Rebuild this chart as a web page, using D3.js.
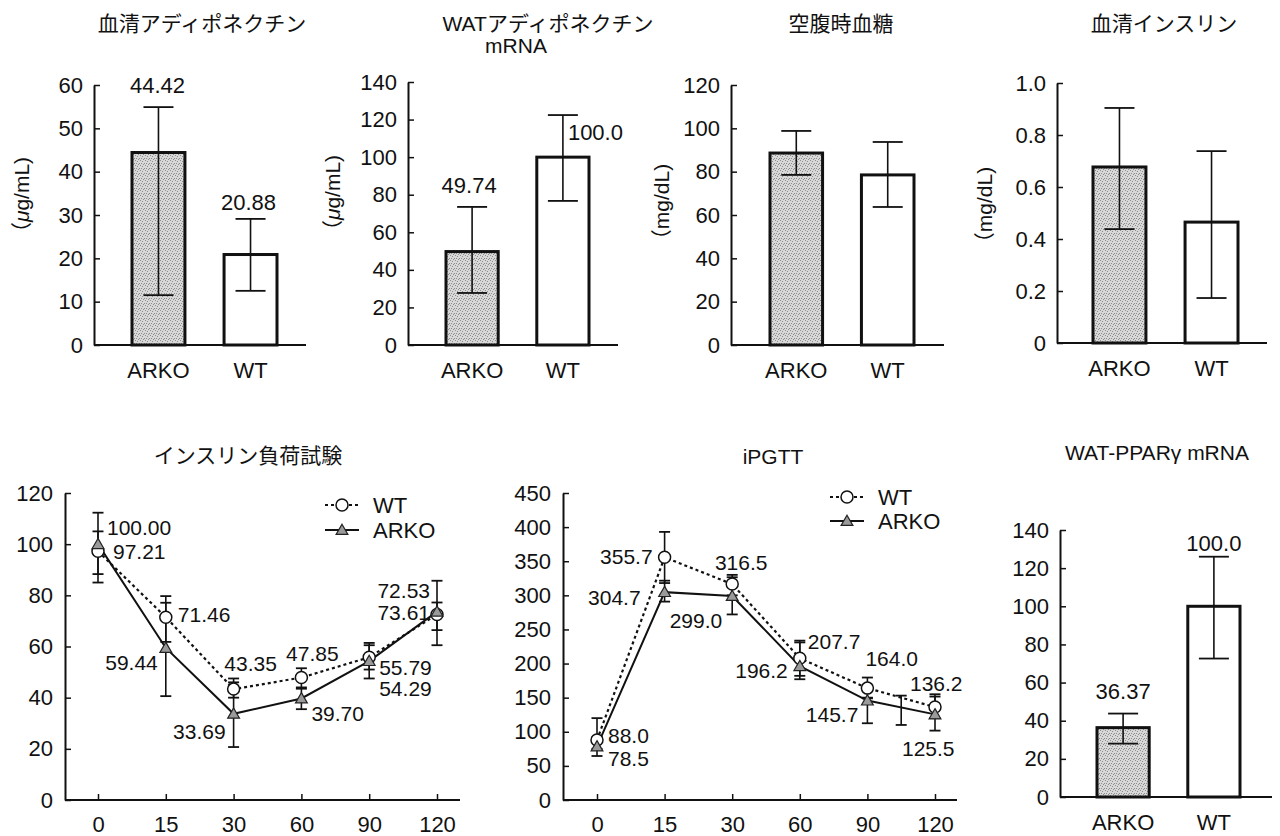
<!DOCTYPE html>
<html>
<head>
<meta charset="utf-8">
<script src="https://cdn.jsdelivr.net/npm/d3@7"></script>
<style>
  body { margin: 0; background: #fff; }
</style>
</head>
<body>
<div id="chart"></div>
<script>
const groups = ['ARKO', 'WT'];
const timeLabels = ['0', '15', '30', '60', '90', '120'];

// 血清アディポネクチン
const serumAdipo = [44.42, 20.88];
const serumAdipoHi = [54.9, 29.1];
const serumAdipoLo = [11.5, 12.5];
// WATアディポネクチン mRNA
const watAdipo = [49.74, 100.0];
const watAdipoHi = [73.5, 122.4];
const watAdipoLo = [27.7, 76.7];
// 空腹時血糖
const glucose = [88.6, 78.5];
const glucoseHi = [98.8, 93.7];
const glucoseLo = [78.5, 63.7];
// 血清インスリン
const insulin = [0.677, 0.465];
const insulinHi = [0.904, 0.738];
const insulinLo = [0.438, 0.173];
// WAT-PPARγ mRNA
const ppar = [36.37, 100.0];
const pparHi = [43.75, 126];
const pparLo = [28, 72.6];

// インスリン負荷試験
const ittWT = [97.21, 71.46, 43.35, 47.85, 55.79, 72.53];
const ittWTHi = [105, 77.1, 47.5, 51.5, 61.4, 85.7];
const ittWTLo = [88.3, 61.8, 40, 43.5, 51, 60.5];
const ittARKO = [100.00, 59.44, 33.69, 39.70, 54.29, 73.61];
const ittARKOHi = [112.3, 79.7, 46, 44, 60.5, 77.2];
const ittARKOLo = [85, 40.6, 20.7, 35.5, 47.5, 66.4];

// iPGTT
const gttWT = [88.0, 355.7, 316.5, 207.7, 164.0, 136.2];
const gttWTHi = [120, 393, 330, 233.6, 179.5, 155];
const gttWTLo = [75, 318, 300, 182, 150, 120];
const gttARKO = [78.5, 304.7, 299.0, 196.2, 145.7, 125.5];
const gttARKOHi = [92, 321.5, 326.5, 231, 149, 151.6];
const gttARKOLo = [64.5, 290.8, 272, 177, 112.5, 101.7];
// unlabelled bar drawn between 90 and 120
const gttExtraBar = { lo: 110, hi: 153 };

const FONT = '"Liberation Sans", Arial, "Noto Sans CJK JP", sans-serif';
const INK = '#111';

const svg = d3.select('#chart').append('svg')
  .attr('width', 1280).attr('height', 836);
svg.append('rect').attr('width', 1280).attr('height', 836).attr('fill', '#fff');

// stippled grey fill of the ARKO bars
const pat = svg.append('defs').append('pattern')
  .attr('id', 'stipple').attr('patternUnits', 'userSpaceOnUse')
  .attr('width', 5).attr('height', 5);
pat.append('rect').attr('width', 5).attr('height', 5).attr('fill', '#d8d8d8');
[[0, 0], [2, 1], [4, 3], [1, 3], [3, 4]].forEach(([px, py]) => {
  pat.append('rect').attr('x', px).attr('y', py).attr('width', 1).attr('height', 1).attr('fill', '#8c8c8c');
});

const addText = (g, txt, x, y, anchor, size) => {
  return g.append('text')
    .attr('x', x).attr('y', y)
    .attr('text-anchor', anchor || 'middle')
    .attr('font-family', FONT)
    .attr('font-size', size || 21)
    .attr('fill', INK)
    .text(txt);
};

const styleAxis = (sel) => {
  sel.attr('font-size', null).attr('font-family', null);
  sel.select('.domain').attr('stroke', INK).attr('stroke-width', 2);
  sel.selectAll('.tick line').attr('stroke', INK).attr('stroke-width', 1.5);
  sel.selectAll('.tick text').attr('font-size', 22).attr('font-family', FONT).attr('fill', INK);
};

const drawYLabel = (g, lab) => {
  const t = g.append('text')
    .attr('transform', `translate(${lab.x},${lab.y}) rotate(-90)`)
    .attr('text-anchor', 'middle').attr('dy', '0.35em')
    .attr('font-family', FONT).attr('font-size', 21).attr('fill', INK);
  t.append('tspan').text('（');
  if (lab.mu) {
    t.append('tspan').attr('font-style', 'italic').text('μ');
    t.append('tspan').text('g/mL)');
  } else {
    t.append('tspan').text('mg/dL)');
  }
};

const drawErrorBar = (g, cx, yHi, yLo, capW) => {
  g.append('line').attr('x1', cx).attr('x2', cx).attr('y1', yHi).attr('y2', yLo)
    .attr('stroke', INK).attr('stroke-width', 1.6);
  [yHi, yLo].forEach((yy) => {
    g.append('line').attr('x1', cx - capW / 2).attr('x2', cx + capW / 2).attr('y1', yy).attr('y2', yy)
      .attr('stroke', INK).attr('stroke-width', 1.8);
  });
};

const drawBarPanel = (p) => {
  const g = svg.append('g');
  const y = d3.scaleLinear().domain([0, p.max]).range([p.y0, p.yTop]);
  const x = d3.scaleBand().domain(groups).range([p.barL, p.barR]).paddingInner(0.425);

  g.selectAll('rect.bar').data(groups).enter().append('rect')
    .attr('class', 'bar')
    .attr('x', (d) => x(d))
    .attr('width', x.bandwidth())
    .attr('y', (d, i) => y(p.values[i]))
    .attr('height', (d, i) => p.y0 - y(p.values[i]))
    .attr('fill', (d, i) => i === 0 ? 'url(#stipple)' : '#fff')
    .attr('stroke', INK).attr('stroke-width', 3);

  groups.forEach((d, i) => {
    const cx = x(d) + x.bandwidth() / 2;
    drawErrorBar(g, cx, y(p.hi[i]), y(p.lo[i]), 30);
    if (p.labelPos) {
      const lp = p.labelPos[i];
      addText(g, p.labelText[i], cx + lp.dx, y(p.hi[i]) + lp.dy, lp.anchor, 22).attr('dy', '0.36em');
    }
    addText(g, d, cx, p.y0 + 33, 'middle', 22);
  });

  const yAxis = d3.axisLeft(y)
    .tickValues(d3.range(0, p.max + p.step / 2, p.step))
    .tickSizeInner(-6).tickSizeOuter(0).tickPadding(11)
    .tickFormat(p.fmt);
  g.append('g').attr('transform', `translate(${p.axisX},0)`).call(yAxis).call(styleAxis);

  g.append('line').attr('x1', p.axisX).attr('x2', p.xEnd).attr('y1', p.y0).attr('y2', p.y0)
    .attr('stroke', INK).attr('stroke-width', 2);

  p.title.forEach((t) => addText(g, t.text, t.x, t.y, 'middle', 21));
  if (p.ylabel) drawYLabel(g, p.ylabel);
};

const drawMarker = (g, kind, cx, cy) => {
  if (kind === 'circle') {
    g.append('circle').attr('cx', cx).attr('cy', cy).attr('r', 6)
      .attr('fill', '#fff').attr('stroke', INK).attr('stroke-width', 1.5);
  } else {
    g.append('path').attr('d', d3.symbol().type(d3.symbolTriangle).size(60)())
      .attr('transform', `translate(${cx},${cy + 1})`)
      .attr('fill', '#9a9a9a').attr('stroke', '#222').attr('stroke-width', 1.2);
  }
};

const drawLinePanel = (p) => {
  const g = svg.append('g');
  const x = d3.scalePoint().domain(timeLabels).range([p.x0, p.x1]);
  const y = d3.scaleLinear().domain([0, p.max]).range([p.y0, p.yTop]);

  p.series.forEach((s) => {
    s.values.forEach((v, i) => drawErrorBar(g, x(timeLabels[i]), y(s.hi[i]), y(s.lo[i]), 11));
  });
  if (p.extra) {
    const ex = (x(timeLabels[4]) + x(timeLabels[5])) / 2;
    drawErrorBar(g, ex, y(p.extra.hi), y(p.extra.lo), 11);
  }

  const line = d3.line().x((d, i) => x(timeLabels[i])).y((d) => y(d));
  p.series.forEach((s) => {
    g.append('path').datum(s.values).attr('d', line)
      .attr('fill', 'none').attr('stroke', INK).attr('stroke-width', s.dash ? 2.2 : 2)
      .attr('stroke-dasharray', s.dash || null);
  });
  p.series.forEach((s) => {
    s.values.forEach((v, i) => drawMarker(g, s.marker, x(timeLabels[i]), y(v)));
    s.values.forEach((v, i) => {
      const lp = s.labelPos[i];
      addText(g, s.labelText[i], x(timeLabels[i]) + lp[0], y(v) + lp[1], lp[2], 21).attr('dy', '0.36em');
    });
  });

  const yAxis = d3.axisLeft(y)
    .tickValues(d3.range(0, p.max + p.step / 2, p.step))
    .tickSizeInner(-6).tickSizeOuter(0).tickPadding(12)
    .tickFormat(d3.format('d'));
  g.append('g').attr('transform', `translate(${p.axisX},0)`).call(yAxis).call(styleAxis);

  const xAxis = d3.axisBottom(x).tickSizeInner(-6).tickSizeOuter(0).tickPadding(16);
  const xg = g.append('g').attr('transform', `translate(0,${p.y0})`).call(xAxis).call(styleAxis);
  xg.select('.domain').remove();
  g.append('line').attr('x1', p.axisX).attr('x2', p.xEnd).attr('y1', p.y0).attr('y2', p.y0)
    .attr('stroke', INK).attr('stroke-width', 2);

  // legend
  p.series.forEach((s, i) => {
    const ly = p.legend.y + i * p.legend.gap;
    g.append('line').attr('x1', p.legend.x).attr('x2', p.legend.x + 34).attr('y1', ly).attr('y2', ly)
      .attr('stroke', INK).attr('stroke-width', 2).attr('stroke-dasharray', s.dash || null);
    drawMarker(g, s.marker, p.legend.x + 17, ly);
    addText(g, s.name, p.legend.x + 48, ly, 'start', 22).attr('dy', '0.36em');
  });

  addText(g, p.title.text, p.title.x, p.title.y, 'middle', 21);
};

drawBarPanel({
  axisX: 94, barL: 132, barR: 277, xEnd: 306, yTop: 85, y0: 345, max: 60, step: 10,
  fmt: d3.format('d'), values: serumAdipo, hi: serumAdipoHi, lo: serumAdipoLo,
  labelText: ['44.42', '20.88'],
  labelPos: [{ dx: -1, dy: -22 }, { dx: -2, dy: -17 }],
  title: [{ text: '血清アディポネクチン', x: 202, y: 31 }],
  ylabel: { x: 22, y: 200, mu: true }
});

drawBarPanel({
  axisX: 408, barL: 446, barR: 589, xEnd: 618, yTop: 82, y0: 345, max: 140, step: 20,
  fmt: d3.format('d'), values: watAdipo, hi: watAdipoHi, lo: watAdipoLo,
  labelText: ['49.74', '100.0'],
  labelPos: [{ dx: -3, dy: -22 }, { dx: 5, dy: 17, anchor: 'start' }],
  title: [{ text: 'WATアディポネクチン', x: 548, y: 31 }, { text: 'mRNA', x: 516, y: 53 }],
  ylabel: { x: 333, y: 198, mu: true }
});

drawBarPanel({
  axisX: 731, barL: 770, barR: 914, xEnd: 944, yTop: 85, y0: 345, max: 120, step: 20,
  fmt: d3.format('d'), values: glucose, hi: glucoseHi, lo: glucoseLo,
  title: [{ text: '空腹時血糖', x: 841, y: 31 }],
  ylabel: { x: 662, y: 207, mu: false }
});

drawBarPanel({
  axisX: 1057, barL: 1093, barR: 1238, xEnd: 1267, yTop: 83, y0: 343, max: 1.0, step: 0.2,
  fmt: (d) => d === 0 ? '0' : d3.format('.1f')(d), values: insulin, hi: insulinHi, lo: insulinLo,
  title: [{ text: '血清インスリン', x: 1164, y: 31 }],
  ylabel: { x: 985, y: 210, mu: false }
});

drawBarPanel({
  axisX: 1060, barL: 1097, barR: 1240, xEnd: 1272, yTop: 530, y0: 797, max: 140, step: 20,
  fmt: d3.format('d'), values: ppar, hi: pparHi, lo: pparLo,
  labelText: ['36.37', '100.0'],
  labelPos: [{ dx: 0, dy: -22 }, { dx: 0, dy: -14 }],
  title: [{ text: 'WAT-PPARγ mRNA', x: 1157, y: 460 }]
});

drawLinePanel({
  axisX: 65, x0: 98, x1: 437, xEnd: 460, yTop: 493, y0: 800, max: 120, step: 20,
  title: { text: 'インスリン負荷試験', x: 248, y: 463 },
  legend: { x: 325, y: 505, gap: 25 },
  series: [
    { name: 'WT', values: ittWT, hi: ittWTHi, lo: ittWTLo, marker: 'circle', dash: '3,3',
      labelText: ['97.21', '71.46', '43.35', '47.85', '55.79', '72.53'],
      labelPos: [[15, 0, 'start'], [12, -3, 'start'], [17, -26, 'middle'], [11, -24, 'middle'], [10, 10, 'start'], [-7, -24, 'end']] },
    { name: 'ARKO', values: ittARKO, hi: ittARKOHi, lo: ittARKOLo, marker: 'triangle',
      labelText: ['100.00', '59.44', '33.69', '39.70', '54.29', '73.61'],
      labelPos: [[9, -17, 'start'], [-8, 15, 'end'], [-8, 18, 'end'], [10, 15, 'start'], [10, 27, 'start'], [-7, 1, 'end']] }
  ]
});

drawLinePanel({
  axisX: 563, x0: 597, x1: 935, xEnd: 957, yTop: 493, y0: 800, max: 450, step: 50,
  title: { text: 'iPGTT', x: 773, y: 464 },
  legend: { x: 830, y: 497, gap: 24 },
  extra: gttExtraBar,
  series: [
    { name: 'WT', values: gttWT, hi: gttWTHi, lo: gttWTLo, marker: 'circle', dash: '3,3',
      labelText: ['88.0', '355.7', '316.5', '207.7', '164.0', '136.2'],
      labelPos: [[11, -5, 'start'], [-12, -1, 'end'], [9, -22, 'middle'], [8, -17, 'start'], [-2, -30, 'start'], [-25, -24, 'start']] },
    { name: 'ARKO', values: gttARKO, hi: gttARKOHi, lo: gttARKOLo, marker: 'triangle',
      labelText: ['78.5', '304.7', '299.0', '196.2', '145.7', '125.5'],
      labelPos: [[11, 12, 'start'], [-24, 5, 'end'], [-10, 24, 'end'], [-12, 4, 'end'], [-9, 14, 'end'], [-33, 34, 'start']] }
  ]
});
</script>
</body>
</html>
